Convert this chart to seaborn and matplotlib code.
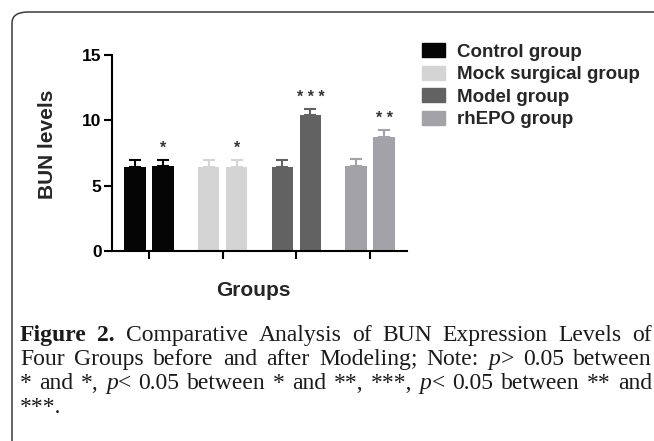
import numpy as np
import pandas as pd
import matplotlib
matplotlib.use("Agg")
import matplotlib.pyplot as plt
import seaborn as sns
from matplotlib.patches import Patch, FancyBboxPatch

# ---- data ----
groups = ["Control group", "Mock surgical group", "Model group", "rhEPO group"]
phases = ["Before modeling", "After modeling"]
before_vals = [6.45, 6.45, 6.45, 6.50]
after_vals = [6.50, 6.45, 10.38, 8.72]
before_err = [0.50, 0.50, 0.50, 0.55]
after_err = [0.50, 0.50, 0.50, 0.55]
after_marks = ["*", "*", "* * *", "* *"]
colors = ["#050505", "#d4d4d4", "#626262", "#a2a2a8"]
yticks = [0, 5, 10, 15]

df = pd.DataFrame({
    "group": groups * 2,
    "phase": [phases[0]] * 4 + [phases[1]] * 4,
    "value": before_vals + after_vals,
})

sns.set_style("white")
plt.rcParams["font.family"] = ["Liberation Sans", "DejaVu Sans"]

W, H = 654, 441
fig = plt.figure(figsize=(W / 100, H / 100), dpi=100)
fig.patch.set_facecolor("white")

def px(x, y):
    return x / W, 1 - y / H

# frame
frame = FancyBboxPatch(px(12, 600), (700) / W, (600 - 12) / H,
                       boxstyle="round,pad=0,rounding_size=0.025",
                       transform=fig.transFigure, facecolor="none",
                       edgecolor="#3a3a3a", linewidth=1.1, zorder=-1)
fig.patches.append(frame)

ax = fig.add_axes([112 / W, 1 - 251 / H, 295 / W, 196 / H])
sns.barplot(data=df, x="group", y="value", hue="phase", order=groups,
            hue_order=phases, width=0.76, gap=0.24, errorbar=None,
            ax=ax, legend=False, saturation=1)

# recolor bars per group and add up-only error bars
pats = sorted(ax.patches, key=lambda p: p.get_x())
vals_sorted = []
for gi in range(4):
    vals_sorted.append((before_vals[gi], before_err[gi], None))
    vals_sorted.append((after_vals[gi], after_err[gi], after_marks[gi]))
for i, (p, (v, e, m)) in enumerate(zip(pats, vals_sorted)):
    c = colors[i // 2]
    p.set_facecolor(c)
    p.set_edgecolor(c)
    p.set_linewidth(0)
    cx = p.get_x() + p.get_width() / 2
    ax.errorbar([cx], [v], yerr=[[0], [e]], fmt="none", ecolor=c,
                elinewidth=1.5, capsize=4.2, capthick=1.5, zorder=1)
    if m:
        ax.text(cx, v + e + 0.3, m, ha="center", va="bottom",
                fontsize=11.5, color="#333333", fontweight="bold")

ax.set_xlim(-0.5, 3.5)
ax.set_ylim(0, 15)
ax.set_yticks(yticks)
ax.set_yticklabels([str(t) for t in yticks], fontweight="bold", fontsize=12.5)
ax.set_xticks(range(4))
ax.set_xticklabels([""] * 4)
ax.tick_params(axis="both", direction="out", length=6, width=1.5, pad=1.5,
               bottom=True, left=True, colors="black")
for s in ["top", "right"]:
    ax.spines[s].set_visible(False)
for s in ["left", "bottom"]:
    ax.spines[s].set_linewidth(1.5)
    ax.spines[s].set_color("black")
ax.set_facecolor("none")
ax.set_xlabel("Groups", fontsize=15, fontweight="bold")
ax.xaxis.set_label_coords((253 - 112) / 295, -(281 - 251) / 196)
ax.set_ylabel("BUN levels", fontsize=15, fontweight="bold")
ax.yaxis.set_label_coords((57 - 112) / 295, (251 - 144) / 196)

handles = [Patch(facecolor=c, edgecolor=c) for c in colors]
fig.legend(handles, groups, loc="upper left", bbox_to_anchor=px(422, 43),
           frameon=False, prop={"weight": "bold", "size": 13.5},
           handlelength=1.23, handleheight=0.8, handletextpad=0.62,
           labelspacing=0.26, borderpad=0, borderaxespad=0)

# ---- caption (justified) ----
fig.canvas.draw()
renderer = fig.canvas.get_renderer()
cap_font = ["Liberation Serif", "DejaVu Serif"]
cap_size = 17
N, B, I = "normal", "bold", "italic"
lines = [
    [[("Figure", B)], [("2.", B)], [("Comparative", N)], [("Analysis", N)], [("of", N)],
     [("BUN", N)], [("Expression", N)], [("Levels", N)], [("of", N)]],
    [[("Four", N)], [("Groups", N)], [("before", N)], [("and", N)], [("after", N)],
     [("Modeling;", N)], [("Note:", N)], [("p", I), (">", N)], [("0.05", N)], [("between", N)]],
    [[("*", N)], [("and", N)], [("*,", N)], [("p", I), ("<", N)], [("0.05", N)], [("between", N)],
     [("*", N)], [("and", N)], [("**,", N)], [("***,", N)], [("p", I), ("<", N)], [("0.05", N)],
     [("between", N)], [("**", N)], [("and", N)]],
    [[("***.", N)]],
]
line_y = [341, 365, 389, 413]
x0, x1 = 20, 652

def mk(s, style, x, y):
    kw = dict(fontsize=cap_size, family=cap_font, color="#1a1a1a", va="baseline", ha="left")
    if style == B:
        kw["fontweight"] = "bold"
    if style == I:
        kw["fontstyle"] = "italic"
    return fig.text(x / W, 1 - y / H, s, **kw)

for li, (words, yb) in enumerate(zip(lines, line_y)):
    widths = []
    for w in words:
        tot = 0
        for s, st in w:
            t = mk(s, st, 0, yb)
            tot += t.get_window_extent(renderer).width
            t.remove()
        widths.append(tot)
    if len(words) > 1 and li < 3:
        gap = (x1 - x0 - sum(widths)) / (len(words) - 1)
    else:
        gap = 4
    x = x0
    for w, wd in zip(words, widths):
        xx = x
        for s, st in w:
            t = mk(s, st, xx, yb)
            xx += t.get_window_extent(renderer).width
        x += wd + gap

fig.savefig("out.png", dpi=100)
